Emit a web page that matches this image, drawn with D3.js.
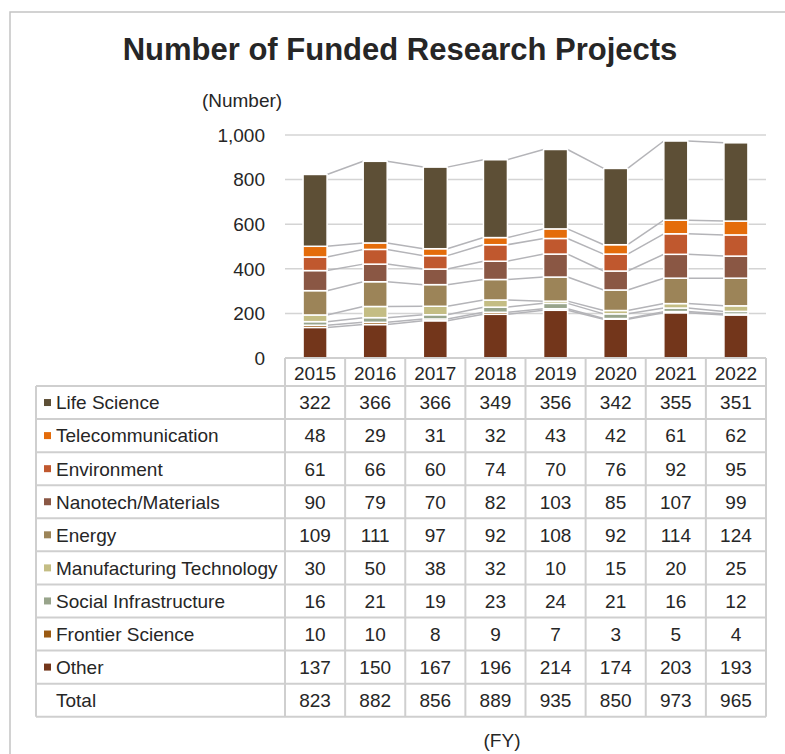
<!DOCTYPE html>
<html>
<head>
<meta charset="utf-8">
<script src="https://cdn.jsdelivr.net/npm/d3@7"></script>
<style>
  body { margin: 0; background: #fff; }
  svg { font-family: "Liberation Sans", Arial, sans-serif; }
</style>
</head>
<body>
<svg id="chart" width="785" height="754"></svg>
<script>
// fiscal years
const years = ["2015", "2016", "2017", "2018", "2019", "2020", "2021", "2022"];

// series, listed bottom of stack first
const seriesNames = ["Other", "Frontier Science", "Social Infrastructure", "Manufacturing Technology",
  "Energy", "Nanotech/Materials", "Environment", "Telecommunication", "Life Science"];
const seriesColors = ["#73361b", "#9a5a12", "#98a48b", "#c4bd84", "#9c8458", "#8a5744", "#c0582e", "#e46c0a", "#5d4f36"];

const other = [137, 150, 167, 196, 214, 174, 203, 193];
const frontier = [10, 10, 8, 9, 7, 3, 5, 4];
const social = [16, 21, 19, 23, 24, 21, 16, 12];
const manufacturing = [30, 50, 38, 32, 10, 15, 20, 25];
const energy = [109, 111, 97, 92, 108, 92, 114, 124];
const nanotech = [90, 79, 70, 82, 103, 85, 107, 99];
const environment = [61, 66, 60, 74, 70, 76, 92, 95];
const telecom = [48, 29, 31, 32, 43, 42, 61, 62];
const lifeScience = [322, 366, 366, 349, 356, 342, 355, 351];
const totals = [823, 882, 856, 889, 935, 850, 973, 965];

const yTicks = [0, 200, 400, 600, 800, 1000];

const seriesValues = [other, frontier, social, manufacturing, energy, nanotech, environment, telecom, lifeScience];

const svg = d3.select("#chart");
const textColor = "#262626";
const gridColor = "#d4d4d4";
const tableColor = "#cfcfcf";
const fs = 19;

// outer frame
svg.append("rect")
  .attr("x", 10).attr("y", 12).attr("width", 790).attr("height", 760)
  .attr("fill", "none").attr("stroke", "#c4c4c4").attr("stroke-width", 1.5);

svg.append("text")
  .attr("x", 400).attr("y", 60)
  .attr("text-anchor", "middle")
  .attr("font-size", 31).attr("font-weight", "bold")
  .attr("fill", textColor)
  .text("Number of Funded Research Projects");

svg.append("text")
  .attr("x", 242).attr("y", 107)
  .attr("text-anchor", "middle")
  .attr("font-size", fs).attr("fill", textColor)
  .text("(Number)");

const x = d3.scaleBand().domain(years).range([285, 766]);
const y = d3.scaleLinear().domain([0, 1000]).range([358, 135]);
const barW = 24;

// grid lines
svg.append("g").selectAll("line")
  .data(yTicks.filter(d => d > 0))
  .join("line")
  .attr("x1", 285).attr("x2", 766)
  .attr("y1", d => y(d)).attr("y2", d => y(d))
  .attr("stroke", gridColor).attr("stroke-width", 1.5);

// y labels
svg.append("g").selectAll("text")
  .data(yTicks)
  .join("text")
  .attr("x", 265).attr("y", d => y(d))
  .attr("dy", "0.36em")
  .attr("text-anchor", "end")
  .attr("font-size", fs).attr("fill", textColor)
  .text(d => d3.format(",")(d));

// stack
const table = years.map((yr, i) => {
  const row = { year: yr };
  seriesNames.forEach((s, k) => { row[s] = seriesValues[k][i]; });
  return row;
});
const stacked = d3.stack().keys(seriesNames)(table);

// series lines connecting segment tops
const lineG = svg.append("g");
stacked.forEach(layer => {
  for (let i = 0; i < years.length - 1; i++) {
    lineG.append("line")
      .attr("x1", x(years[i]) + x.bandwidth() / 2 + barW / 2)
      .attr("y1", y(layer[i][1]))
      .attr("x2", x(years[i + 1]) + x.bandwidth() / 2 - barW / 2)
      .attr("y2", y(layer[i + 1][1]))
      .attr("stroke", "#b4b4b8").attr("stroke-width", 1.5);
  }
});

// bars
svg.append("g").selectAll("g")
  .data(stacked)
  .join("g")
  .attr("fill", (d, k) => seriesColors[k])
  .selectAll("rect")
  .data(d => d)
  .join("rect")
  .attr("x", d => x(d.data.year) + x.bandwidth() / 2 - barW / 2)
  .attr("y", d => y(d[1]))
  .attr("width", barW)
  .attr("height", d => y(d[0]) - y(d[1]))
  .attr("stroke", "#fff").attr("stroke-width", 1.5);

// data table
const tableTop = 358;
const headerH = 28;
const rowH = 33.07;
const labelLeft = 36;
const tableLeft = 285;
const tableRight = 766;
const rowsTop = tableTop + headerH;
const rowLabels = seriesNames.slice().reverse().concat(["Total"]);
const rowColors = seriesColors.slice().reverse().concat([null]);
const rowValues = seriesValues.slice().reverse().concat([totals]);
const tableBottom = rowsTop + rowH * rowLabels.length;

const tg = svg.append("g");

// header frame
tg.append("line").attr("x1", tableLeft).attr("x2", tableRight)
  .attr("y1", tableTop).attr("y2", tableTop)
  .attr("stroke", tableColor).attr("stroke-width", 2);
// horizontal lines
d3.range(rowLabels.length + 1).forEach(r => {
  tg.append("line")
    .attr("x1", labelLeft).attr("x2", tableRight)
    .attr("y1", rowsTop + r * rowH).attr("y2", rowsTop + r * rowH)
    .attr("stroke", tableColor).attr("stroke-width", 2);
});
// vertical lines
years.forEach(yr => {
  tg.append("line")
    .attr("x1", x(yr)).attr("x2", x(yr))
    .attr("y1", tableTop).attr("y2", tableBottom)
    .attr("stroke", tableColor).attr("stroke-width", 2);
});
tg.append("line").attr("x1", tableRight).attr("x2", tableRight)
  .attr("y1", tableTop).attr("y2", tableBottom)
  .attr("stroke", tableColor).attr("stroke-width", 2);
tg.append("line").attr("x1", labelLeft).attr("x2", labelLeft)
  .attr("y1", rowsTop).attr("y2", tableBottom)
  .attr("stroke", tableColor).attr("stroke-width", 2);

// header years
tg.selectAll("text.yr")
  .data(years)
  .join("text")
  .attr("class", "yr")
  .attr("x", d => x(d) + x.bandwidth() / 2)
  .attr("y", tableTop + headerH / 2 + 1)
  .attr("dy", "0.36em")
  .attr("text-anchor", "middle")
  .attr("font-size", fs).attr("fill", textColor)
  .text(d => d);

rowLabels.forEach((lab, r) => {
  const cy = rowsTop + r * rowH + rowH / 2;
  if (rowColors[r]) {
    tg.append("rect")
      .attr("x", 44).attr("y", cy - 3.5)
      .attr("width", 7).attr("height", 7)
      .attr("fill", rowColors[r]);
  }
  tg.append("text")
    .attr("x", 56).attr("y", cy)
    .attr("dy", "0.36em")
    .attr("font-size", fs).attr("fill", textColor)
    .text(lab);
  rowValues[r].forEach((v, i) => {
    tg.append("text")
      .attr("x", x(years[i]) + x.bandwidth() / 2)
      .attr("y", cy)
      .attr("dy", "0.36em")
      .attr("text-anchor", "middle")
      .attr("font-size", fs).attr("fill", textColor)
      .text(v);
  });
});

svg.append("text")
  .attr("x", 502).attr("y", 740)
  .attr("dy", "0.36em")
  .attr("text-anchor", "middle")
  .attr("font-size", fs).attr("fill", textColor)
  .text("(FY)");
</script>
</body>
</html>
